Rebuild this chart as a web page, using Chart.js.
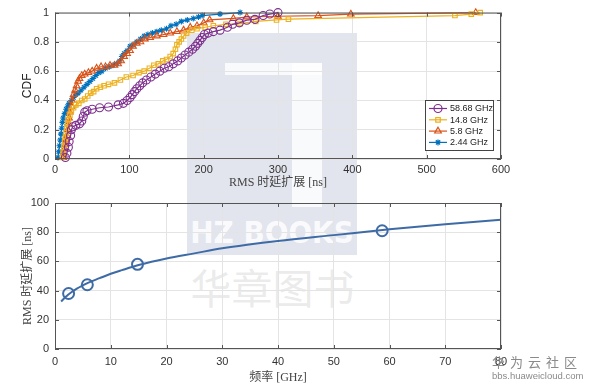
<!DOCTYPE html>
<html>
<head>
<meta charset="utf-8">
<script src="https://cdn.jsdelivr.net/npm/chart.js@4.4.1/dist/chart.umd.min.js"></script>
<style>
  body { margin: 0; background: #fff; width: 590px; height: 389px; position: relative; overflow: hidden; font-family: 'Liberation Sans', Arial, sans-serif; }
  .box { position: absolute; left: 0; width: 590px; }
  #top { top: 0; height: 195px; }
  #bottom { top: 190px; height: 199px; }
  .wm { position: absolute; white-space: nowrap; }
  #wmOuter { left: 187px; top: 33px; width: 170px; height: 222px; background: rgba(185, 192, 212, 0.42); }
  #wmBar { left: 225px; top: 63px; width: 97px; height: 12px; background: rgba(255, 255, 255, 0.8); }
  #wmSide { left: 292px; top: 63px; width: 30px; height: 144px; background: rgba(255, 255, 255, 0.8); }
  #wmHz { left: 187px; top: 214px; width: 170px; text-align: center; font: bold 31px 'DejaVu Sans Condensed', 'DejaVu Sans', sans-serif; color: rgba(255, 255, 255, 0.85); line-height: 36px; }
  #wmCn { left: 180px; top: 262px; width: 185px; text-align: center; font: 41px 'Noto Sans CJK SC', sans-serif; color: rgba(150, 150, 150, 0.2); line-height: 48px; }
  #hw { left: 492px; top: 354px; width: 92px; color: #8a8a8a; font-family: 'Noto Sans CJK SC', sans-serif; }
  #hw .a { font-size: 13px; letter-spacing: 5px; line-height: 16px; }
  #hw .b { font-size: 9.5px; line-height: 12px; font-family: 'Liberation Sans', sans-serif; }
</style>
</head>
<body>
<div class="wm" id="wmOuter"></div>
<div class="wm" id="wmBar"></div>
<div class="wm" id="wmSide"></div>
<div class="wm" id="wmHz">HZ BOOKS</div>
<div class="wm" id="wmCn">华章图书</div>
<div class="box" id="top"><canvas id="cdfChart"></canvas></div>
<div class="box" id="bottom"><canvas id="rmsChart"></canvas></div>
<div class="wm" id="hw"><div class="a">华为云社区</div><div class="b">bbs.huaweicloud.com</div></div>
<script>
'use strict';

// CDF of RMS delay spread [ns] -> [delay, cdf]
const cdf5868 = [[14,0.01],[16,0.04],[18,0.08],[19,0.12],[21,0.16],[22,0.20],[24,0.22],[28,0.23],[33,0.24],[36,0.26],[38,0.29],[40,0.32],[43,0.33],[50,0.34],[60,0.35],[72,0.355],[85,0.37],[92,0.38],[97,0.40],[101,0.42],[104,0.44],[107,0.46],[110,0.48],[114,0.50],[118,0.52],[123,0.54],[129,0.56],[135,0.58],[141,0.60],[147,0.62],[153,0.63],[159,0.65],[165,0.67],[170,0.69],[175,0.71],[180,0.73],[185,0.75],[189,0.77],[192,0.79],[195,0.81],[198,0.83],[201,0.85],[206,0.86],[213,0.87],[222,0.88],[232,0.90],[239,0.92],[248,0.93],[258,0.948],[269,0.954],[280,0.98],[289,0.99],[300,1.0]];
const cdf148 = [[10,0.01],[11,0.04],[12,0.08],[13,0.12],[14,0.15],[15,0.18],[16,0.21],[17,0.24],[18,0.27],[20,0.30],[22,0.33],[25,0.35],[28,0.37],[32,0.38],[36,0.40],[40,0.41],[44,0.43],[48,0.45],[52,0.46],[56,0.48],[61,0.49],[66,0.50],[72,0.51],[80,0.52],[88,0.54],[96,0.56],[105,0.57],[113,0.59],[120,0.60],[127,0.62],[133,0.64],[139,0.65],[145,0.67],[150,0.68],[155,0.70],[159,0.72],[162,0.75],[164,0.78],[167,0.80],[170,0.82],[173,0.84],[177,0.86],[184,0.88],[191,0.89],[202,0.90],[213,0.91],[230,0.92],[249,0.925],[270,0.94],[298,0.95],[314,0.955],[538,0.98],[560,0.99],[572,1.0]];
const cdf58 = [[11,0.01],[12,0.04],[13,0.07],[14,0.10],[15,0.13],[16,0.16],[17,0.20],[18,0.24],[19,0.28],[20,0.32],[22,0.36],[23,0.40],[25,0.44],[27,0.47],[29,0.50],[31,0.53],[33,0.55],[36,0.57],[40,0.58],[45,0.59],[50,0.60],[56,0.62],[62,0.63],[68,0.63],[74,0.64],[80,0.64],[85,0.65],[89,0.67],[93,0.70],[97,0.72],[101,0.74],[105,0.77],[110,0.79],[115,0.80],[121,0.82],[128,0.83],[137,0.84],[146,0.85],[155,0.86],[164,0.87],[173,0.88],[182,0.90],[191,0.91],[200,0.93],[208,0.95],[240,0.96],[258,0.97],[300,0.975],[354,0.98],[398,0.99],[566,1.0]];
const cdf244 = [[4,0.01],[5,0.05],[6,0.09],[7,0.13],[8,0.17],[9,0.21],[10,0.25],[11,0.28],[13,0.31],[15,0.34],[17,0.36],[19,0.38],[22,0.40],[25,0.42],[28,0.44],[31,0.45],[35,0.47],[39,0.49],[43,0.51],[47,0.53],[51,0.55],[55,0.57],[59,0.59],[63,0.60],[68,0.62],[73,0.63],[78,0.64],[83,0.65],[87,0.67],[90,0.70],[93,0.72],[97,0.74],[101,0.77],[105,0.78],[110,0.80],[115,0.82],[120,0.84],[125,0.85],[131,0.86],[137,0.87],[143,0.88],[150,0.89],[156,0.91],[163,0.92],[170,0.94],[178,0.95],[186,0.96],[193,0.97],[198,0.98],[222,0.99],[249,1.0]];

const cdfLabels = ['58.68 GHz', '14.8 GHz', '5.8 GHz', '2.44 GHz'];

// RMS delay spread vs frequency
const freqGHz = [2.44, 5.8, 14.8, 58.68];
const rmsDelayNs = [38, 44, 58, 81];
const fitFreq = [1.1, 2, 3, 4, 5, 6, 8, 10, 12, 15, 20, 25, 30, 40, 50, 60, 70, 80];
const fitDelay = [32.5, 36, 39, 41.5, 43.5, 45.5, 48.5, 51.5, 54, 57.5, 62, 65.5, 69, 74, 78, 82, 85.5, 88.5];

const tickFont = { family: "'Liberation Sans', Arial, sans-serif", size: 11 };
const cnTitleFont = { family: "'Liberation Serif', 'Noto Sans CJK SC', serif", size: 12 };

const toXY = (pairs) => pairs.map(([x, y]) => ({ x: x, y: y }));

// box + inward ticks like matlab
const framePlugin = {
    id: 'frame',
    afterDraw(chart) {
        const ctx = chart.ctx;
        const a = chart.chartArea;
        ctx.save();
        ctx.strokeStyle = '#555';
        ctx.lineWidth = 1;
        ctx.strokeRect(a.left + 0.5, a.top + 0.5, a.right - a.left - 1, a.bottom - a.top - 1);
        ctx.beginPath();
        for (const t of chart.scales.x.ticks) {
            const px = Math.round(chart.scales.x.getPixelForValue(t.value)) + 0.5;
            ctx.moveTo(px, a.bottom); ctx.lineTo(px, a.bottom - 4);
            ctx.moveTo(px, a.top); ctx.lineTo(px, a.top + 4);
        }
        for (const t of chart.scales.y.ticks) {
            const py = Math.round(chart.scales.y.getPixelForValue(t.value)) + 0.5;
            ctx.moveTo(a.left, py); ctx.lineTo(a.left + 4, py);
            ctx.moveTo(a.right, py); ctx.lineTo(a.right - 4, py);
        }
        ctx.stroke();

        const opts = chart.options.plugins.frame || {};
        if (opts.legend) {
            const w = 68, h = 50;
            const x = a.right - 8 - w, y = a.bottom - 9 - h;
            ctx.fillStyle = '#fff';
            ctx.fillRect(x, y, w, h);
            ctx.strokeStyle = '#444';
            ctx.strokeRect(x + 0.5, y + 0.5, w, h);
            chart.data.datasets.forEach((ds, i) => {
                const ly = y + 8.5 + i * 11.3;
                ctx.strokeStyle = ds.borderColor;
                ctx.lineWidth = 1.2;
                ctx.beginPath();
                ctx.moveTo(x + 4, ly); ctx.lineTo(x + 22, ly);
                ctx.stroke();
                ctx.fillStyle = 'rgba(0,0,0,0)';
                Chart.helpers.drawPoint(ctx, {
                    pointStyle: ds.pointStyle, radius: ds.pointRadius,
                    borderWidth: ds.pointBorderWidth, rotation: 0
                }, x + 13, ly);
                ctx.fillStyle = '#222';
                ctx.font = "9px 'Liberation Sans', Arial, sans-serif";
                ctx.textBaseline = 'middle';
                ctx.fillText(ds.label, x + 25, ly + 0.5);
            });
        }
        ctx.restore();
    }
};

function cdfSet(label, pairs, color, style, radius) {
    return {
        label: label,
        data: toXY(pairs),
        showLine: true,
        borderColor: color,
        backgroundColor: 'rgba(0,0,0,0)',
        borderWidth: 1.2,
        pointStyle: style,
        pointRadius: radius,
        pointBorderWidth: 1.1,
        pointBackgroundColor: 'rgba(0,0,0,0)',
        pointBorderColor: color,
        clip: 6
    };
}

let cdfChart = new Chart(
    document.querySelector('#cdfChart'), {
        type: 'scatter',
        data: {
            datasets: [
                cdfSet(cdfLabels[0], cdf5868, '#7E2F8E', 'circle', 4),
                cdfSet(cdfLabels[1], cdf148, '#EDB120', 'rect', 3.2),
                cdfSet(cdfLabels[2], cdf58, '#D95319', 'triangle', 3.8),
                cdfSet(cdfLabels[3], cdf244, '#0072BD', 'star', 3)
            ]
        },
        options: {
            responsive: true,
            maintainAspectRatio: false,
            animation: false,
            layout: { padding: { left: 0, right: 89, top: 12, bottom: 0 } },
            plugins: { legend: { display: false }, tooltip: { enabled: false }, frame: { legend: true } },
            scales: {
                x: {
                    type: 'linear', min: 0, max: 600,
                    ticks: { stepSize: 100, font: tickFont, color: '#333', padding: 4 },
                    grid: { color: '#e4e4e4', drawTicks: false },
                    border: { display: false },
                    title: { display: true, text: 'RMS 时延扩展 [ns]', font: cnTitleFont, color: '#444', padding: { top: 0, bottom: 5 } },
                    afterFit(scale) { scale.height = 36; }
                },
                y: {
                    min: 0, max: 1,
                    ticks: {
                        stepSize: 0.2, font: tickFont, color: '#333', padding: 6,
                        callback: (v) => String(Math.round(v * 10) / 10)
                    },
                    grid: { color: '#e4e4e4', drawTicks: false },
                    border: { display: false },
                    title: { display: true, text: 'CDF', font: { family: "'Liberation Sans', Arial, sans-serif", size: 12 }, color: '#222', padding: { top: 20, bottom: 0 } },
                    afterFit(scale) { scale.width = 55; }
                }
            }
        },
        plugins: [framePlugin]
    }
);

let rmsChart = new Chart(
    document.querySelector('#rmsChart'), {
        type: 'scatter',
        data: {
            datasets: [{
                label: 'fit',
                data: fitFreq.map((f, i) => ({ x: f, y: fitDelay[i] })),
                showLine: true,
                borderColor: '#3E6BA5',
                borderWidth: 2,
                pointRadius: 0,
                cubicInterpolationMode: 'monotone'
            },
            {
                label: 'measured',
                data: freqGHz.map((f, i) => ({ x: f, y: rmsDelayNs[i] })),
                showLine: false,
                pointStyle: 'circle',
                pointRadius: 5.5,
                pointBorderWidth: 2,
                pointBorderColor: '#3E6BA5',
                pointBackgroundColor: 'rgba(0,0,0,0)',
                clip: 8
            }]
        },
        options: {
            responsive: true,
            maintainAspectRatio: false,
            animation: false,
            layout: { padding: { left: 0, right: 89, top: 13, bottom: 0 } },
            plugins: { legend: { display: false }, tooltip: { enabled: false } },
            scales: {
                x: {
                    type: 'linear', min: 0, max: 80,
                    ticks: { stepSize: 10, font: tickFont, color: '#333', padding: 6 },
                    grid: { color: '#e4e4e4', drawTicks: false },
                    border: { display: false },
                    title: { display: true, text: '频率 [GHz]', font: cnTitleFont, color: '#444', padding: { top: 0, bottom: 4 } },
                    afterFit(scale) { scale.height = 40; }
                },
                y: {
                    min: 0, max: 100,
                    ticks: { stepSize: 20, font: tickFont, color: '#333', padding: 6 },
                    grid: { color: '#e4e4e4', drawTicks: false },
                    border: { display: false },
                    title: { display: true, text: 'RMS 时延扩展 [ns]', font: cnTitleFont, color: '#444', padding: { top: 21, bottom: 0 } },
                    afterFit(scale) { scale.width = 55; }
                }
            }
        },
        plugins: [framePlugin]
    }
);
</script>
</body>
</html>
